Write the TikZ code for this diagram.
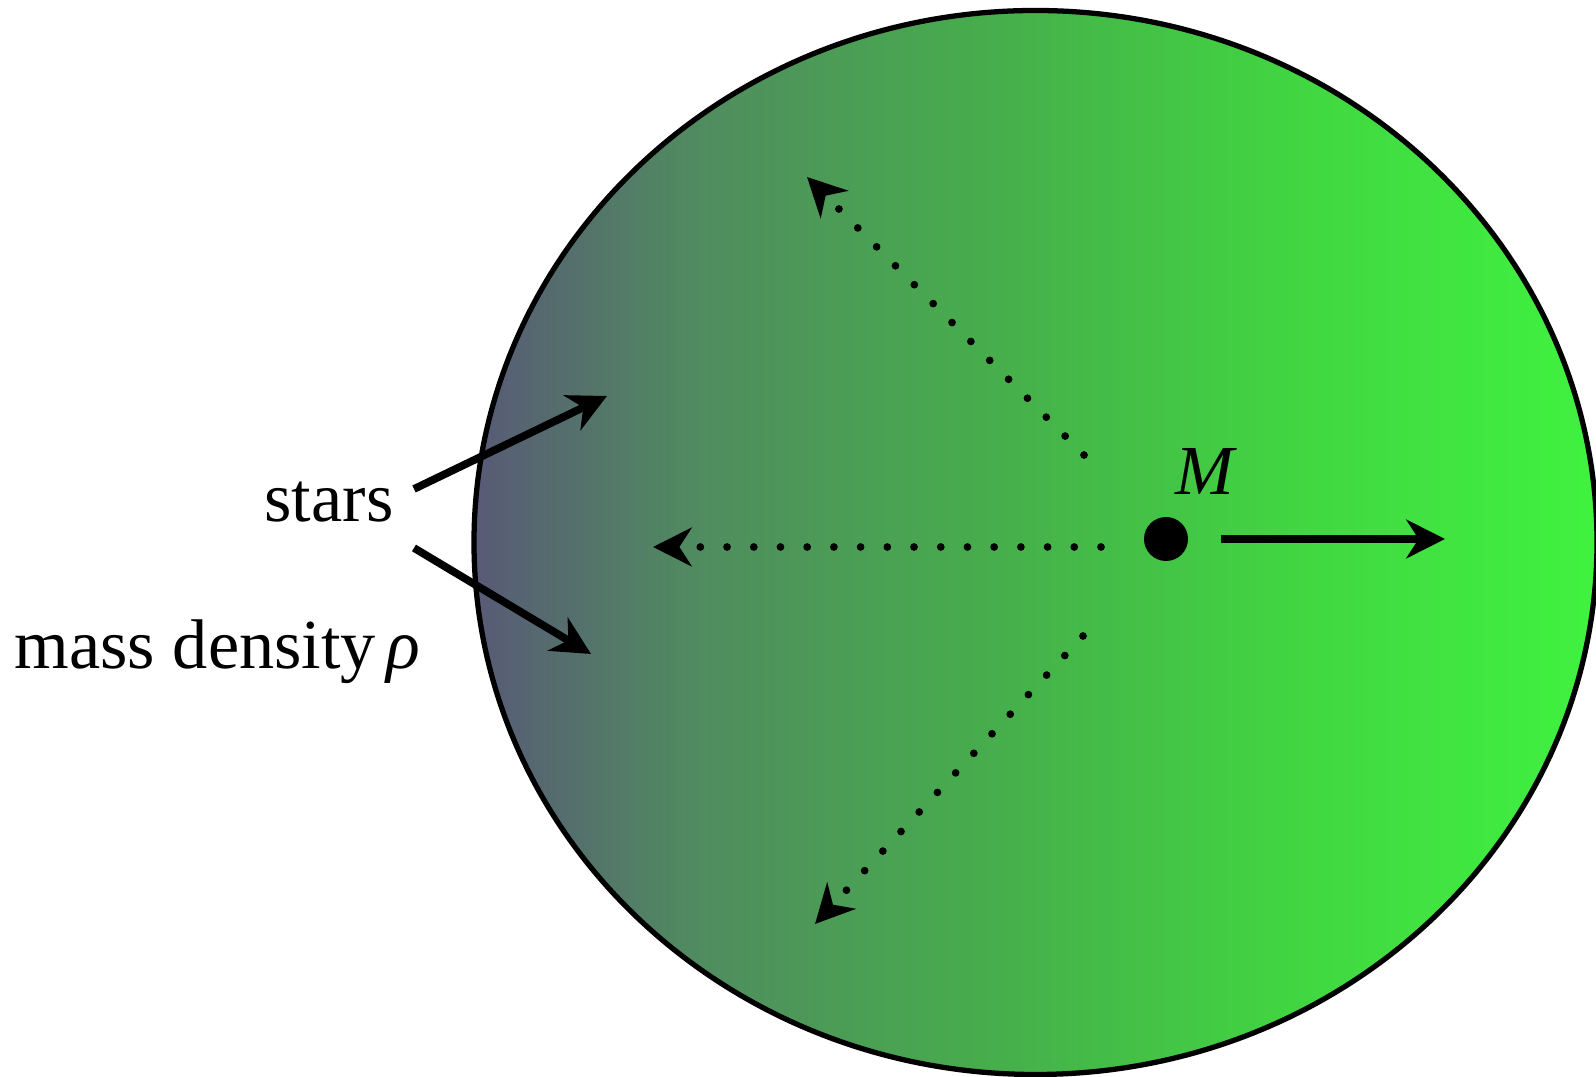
\documentclass[tikz,border=0pt]{standalone}
\usepackage{fontspec}
\setmainfont{Liberation Serif}
\usetikzlibrary{arrows.meta, positioning, calc}

% grey-blue core fading into bright green
\pgfdeclarehorizontalshading{galaxy}{100bp}{%
  rgb(0bp)=(0.345,0.353,0.463);
  rgb(25bp)=(0.345,0.353,0.463);
  rgb(35bp)=(0.314,0.549,0.373);
  rgb(48.5bp)=(0.275,0.686,0.294);
  rgb(62bp)=(0.255,0.843,0.255);
  rgb(75bp)=(0.251,0.949,0.251);
  rgb(100bp)=(0.251,0.949,0.251)}

\begin{document}
\begin{tikzpicture}[font=\fontsize{20}{24}\selectfont,
  >={Stealth[length=11pt, width=11pt, inset=3.5pt]},
  dotarrow/.style={->, line width=2.2pt, line cap=round, dash pattern=on 0pt off 7.6pt},
  thickarrow/.style={->, line width=2.2pt}]
  \useasboundingbox (0,0) rectangle (15.96,10.77);

  % Galaxy
  \draw[line width=1.5pt, shading=galaxy] (10.355,5.345) ellipse (5.615 and 5.32);

  % Point mass
  \node[circle, fill=black, minimum size=0.44cm, inner sep=0pt] (mass) at (11.66,5.38) {};
  \node (mlabel) at (12.06,6.06) {\textit{M}};
  \coordinate (mtip) at (14.45,5.38);
  \draw[thickarrow, shorten <=0.32cm] (mass.east) -- (mtip);

  % Pulls towards the mass density
  \coordinate (up0) at (10.84,6.22);   \coordinate (up1) at (8.07,9.00);
  \coordinate (mid0) at (11.01,5.30);  \coordinate (mid1) at (6.53,5.30);
  \coordinate (dn0) at (10.83,4.41);   \coordinate (dn1) at (8.15,1.53);
  \foreach \a/\b in {up0/up1, mid0/mid1, dn0/dn1} {
    \draw[dotarrow] (\a) -- (\b);
  }

  % Labels
  \node[anchor=base] (stars) at (3.29,5.55) {stars};
  \node[anchor=base west, inner sep=0pt] (rho) at (0.14,4.08) {mass density\hspace{3pt}\textit{ρ}};
  \coordinate (sA0) at (4.14,5.88);  \coordinate (sA1) at (6.07,6.81);
  \coordinate (sB0) at (4.14,5.29);  \coordinate (sB1) at (5.91,4.23);
  \draw[thickarrow] (sA0) -- (sA1);
  \draw[thickarrow] (sB0) -- (sB1);
\end{tikzpicture}
\end{document}
